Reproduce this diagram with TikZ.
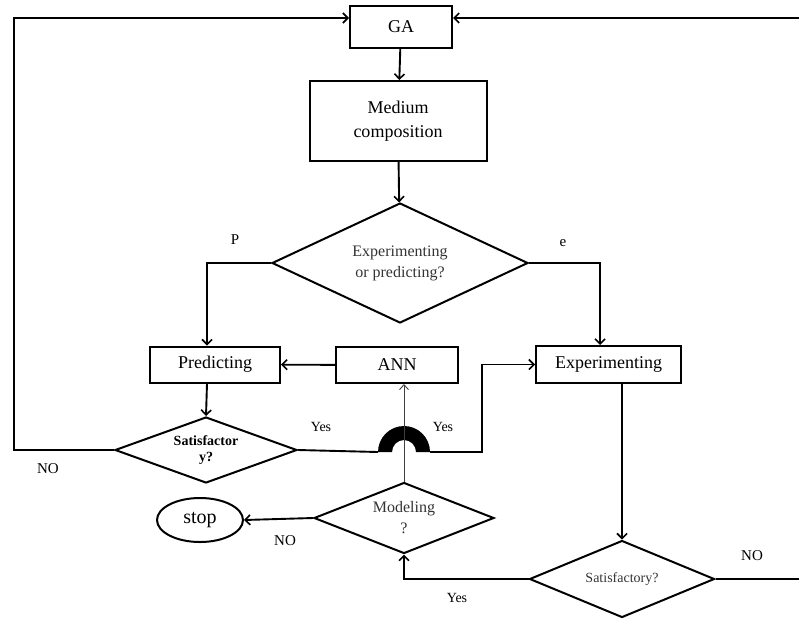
\documentclass[tikz,border=0pt]{standalone}
\usepackage{fontspec}
\setmainfont{Liberation Serif}
\usetikzlibrary{arrows.meta,shapes.geometric}

\tikzset{
  flow/.style={line width=1.9pt, -{Straight Barb[length=5pt,width=10pt,line width=1.6pt]}},
  plain/.style={line width=1.9pt},
  thin arrow/.style={line width=0.9pt, draw=black!75, -{Straight Barb[length=5pt,width=9pt,line width=0.9pt]}},
  box/.style={draw, line width=2pt, rectangle, inner sep=0pt, align=center, font=\fontsize{18}{24}\selectfont},
  choice/.style={draw, line width=2pt, shape=diamond, inner sep=0pt, align=center},
  lbl/.style={font=\fontsize{15}{18}\selectfont, inner sep=0pt}
}

\begin{document}
\begin{tikzpicture}[x=1pt, y=-1pt]
\useasboundingbox (0,0) rectangle (799,619);

% process boxes
\node[box, minimum width=102pt, minimum height=42pt] (ga) at (401,26.5) {GA};
\node[box, minimum width=177pt, minimum height=80pt] (med) at (398,121) {Medium\\composition};
\node[box, minimum width=130pt, minimum height=36pt] (pred) at (215,364.5) {Predicting};
\node[box, minimum width=122pt, minimum height=36pt] (ann) at (397,365) {ANN};
\node[box, minimum width=145pt, minimum height=37pt] (exp) at (608.5,364.5) {Experimenting};

% decisions
\node[choice, aspect=2.1, minimum width=256pt, minimum height=120pt,
      font=\fontsize{16}{21}\selectfont, text=black!80] (dec) at (400,263) {Experimenting\\or predicting?};
\node[choice, aspect=2.8, minimum width=182pt, minimum height=66pt,
      font=\bfseries\fontsize{14}{16}\selectfont] (sat1) at (206,450) {Satisfactor\\y?};
\node[choice, aspect=2.5, minimum width=180pt, minimum height=71pt,
      font=\fontsize{16}{21}\selectfont, text=black!80] (mod) at (404,518) {Modeling\\?};
\node[choice, aspect=2.4, minimum width=185pt, minimum height=77pt,
      font=\fontsize{14}{18}\selectfont, text=black!80] (sat2) at (622,579) {Satisfactory?};

% terminator
\node[draw, line width=2pt, ellipse, minimum width=86pt, minimum height=44pt, inner sep=0pt,
      font=\fontsize{20}{24}\selectfont] (stop) at (200,520) {stop};

% helper points for the loops and the line jump
\coordinate (lt) at (14,18);
\coordinate (rt) at (801,18);
\coordinate (pcol) at (207,0);
\coordinate (ecol) at (600,0);
\coordinate (jl) at (378,452);
\coordinate (jr) at (430,452);
\coordinate (bend) at (482,452);

% main flow
\draw[flow] (ga) -- (med);
\draw[flow] (med) -- (dec);
\draw[flow] (dec.west) -| (pred.north -| pcol);
\draw[flow] (dec.east) -| (exp.north -| ecol);
\draw[flow] (ann) -- (pred);
\draw[flow] (pred.south -| pcol) -- (sat1.north);
\draw[flow] (exp.south -| sat2.north) -- (sat2.north);

% feedback loops back to GA
\draw[flow] (sat1.west) -| (lt) -- (lt -| ga.west);
\draw[flow] (sat2.east) -| (rt) -- (rt -| ga.east);

% Yes branch with the line jump, into Experimenting
\draw[plain] (sat1.east) -- (jl);
\fill (jl) arc[start angle=180, end angle=0, radius=26pt] -- ++(-14pt,0)
      arc[start angle=0, end angle=180, radius=12pt] -- cycle;
\draw[flow] (jr) -- (bend) |- (exp.west);

% modelling branch
\draw[thin arrow] (mod.north) -- (mod.north |- ann.south);
\draw[flow] (mod.west) -- (stop.east);
\draw[flow] (sat2.west) -| (mod.south);

% branch labels
\node[lbl] (lp) at (235,240) {P};
\node[lbl] (le) at (563,243) {e};
\node[lbl, font=\fontsize{14}{18}\selectfont] (ly1) at (321,427) {Yes};
\node[lbl, font=\fontsize{14}{18}\selectfont] (ly2) at (443,427) {Yes};
\node[lbl] (ln1) at (48,469) {NO};
\node[lbl] (ln2) at (285,541) {NO};
\node[lbl, font=\fontsize{14}{18}\selectfont] (ly3) at (457,598) {Yes};
\node[lbl] (ln3) at (752,556) {NO};
\end{tikzpicture}
\end{document}
